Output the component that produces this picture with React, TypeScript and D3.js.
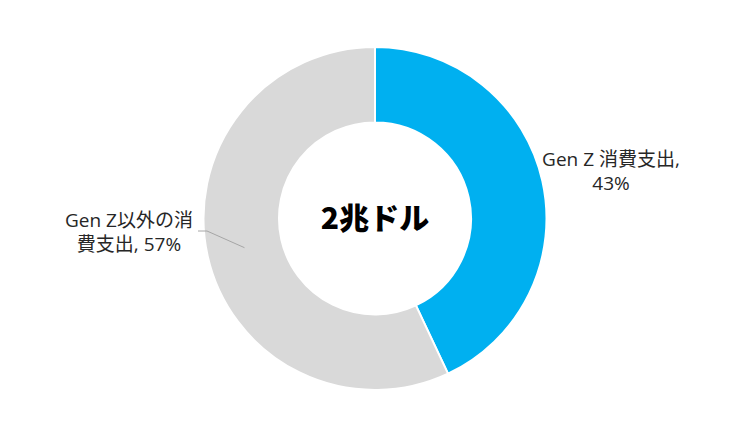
import React, { useRef, useEffect } from 'react';
import * as d3 from 'd3';

const categories = ['Gen Z 消費支出', 'Gen Z以外の消費支出'];
const shares = [43, 57];
const sliceColors = ['#00B0F0', '#D9D9D9'];
const labelLines = [
  ['Gen Z 消費支出,', '43%'],
  ['Gen Z以外の消', '費支出, 57%'],
];
const centerLabel = '2兆ドル';

const App: React.FC = () => {
  const svgRef = useRef<SVGSVGElement>(null);

  useEffect(() => {
    if (!svgRef.current) return;
    const width = 750;
    const height = 438;
    const cx = 375;
    const cy = 218.5;
    const outerR = 171.5;
    const innerR = 96;

    const svg = d3.select(svgRef.current);
    svg.selectAll('*').remove();

    const font = '"Open Sans", "Noto Sans CJK JP", sans-serif';
    const g = svg.append('g').attr('transform', `translate(${cx},${cy})`);

    const pie = d3.pie<number>().sort(null).value(d => d);
    const arcs = pie(shares);
    const arc = d3.arc<d3.PieArcDatum<number>>().innerRadius(innerR).outerRadius(outerR);

    g.selectAll('path')
      .data(arcs)
      .enter()
      .append('path')
      .attr('d', arc)
      .attr('fill', (_, i) => sliceColors[i])
      .attr('stroke', '#ffffff')
      .attr('stroke-width', 2);

    // Centre label
    g.append('text')
      .attr('x', 0)
      .attr('y', 0)
      .attr('dy', '0.36em')
      .attr('text-anchor', 'middle')
      .attr('font-family', '"Noto Sans CJK JP", sans-serif')
      .attr('font-weight', 900)
      .attr('font-size', '30px')
      .attr('fill', '#000000')
      .text(centerLabel);

    // Label for Gen Z slice (right, no leader)
    const right = g.append('text')
      .attr('text-anchor', 'middle')
      .attr('font-family', font)
      .attr('font-size', '19px')
      .attr('fill', '#262626');
    labelLines[0].forEach((line, i) => {
      right.append('tspan')
        .attr('x', 611 - cx)
        .attr('y', 166 - cy + i * 24)
        .text(line);
    });

    // Label for the rest (left, with leader line)
    const mid = (arcs[1].startAngle + arcs[1].endAngle) / 2;
    const rMid = (innerR + outerR) / 2;
    const px = Math.sin(mid) * rMid;
    const py = -Math.cos(mid) * rMid;
    g.append('polyline')
      .attr('points', `${px},${py} ${207 - cx},${231 - cy} ${198 - cx},${231 - cy}`)
      .attr('fill', 'none')
      .attr('stroke', '#A6A6A6')
      .attr('stroke-width', 1);

    const left = g.append('text')
      .attr('text-anchor', 'middle')
      .attr('font-family', font)
      .attr('font-size', '19px')
      .attr('fill', '#262626');
    labelLines[1].forEach((line, i) => {
      left.append('tspan')
        .attr('x', 129 - cx)
        .attr('y', 227 - cy + i * 24)
        .text(line);
    });

    svg.attr('width', width).attr('height', height);
  }, []);

  return (
    <svg
      ref={svgRef}
      width={750}
      height={438}
      style={{ position: 'absolute', left: 0, top: 0, background: '#ffffff' }}
      aria-label={categories.join(' / ')}
    />
  );
};

export default App;
